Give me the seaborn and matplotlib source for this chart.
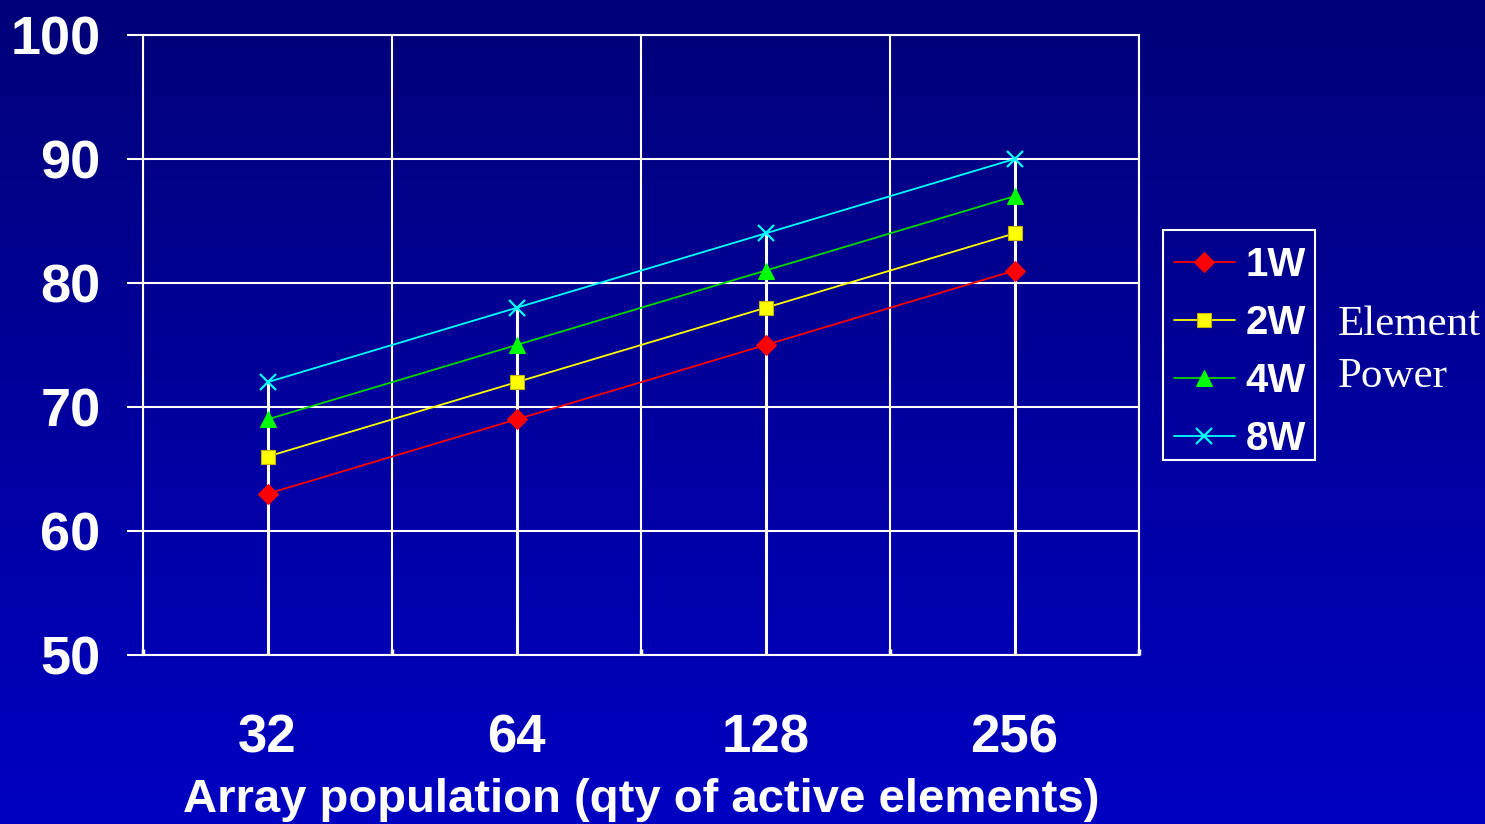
import numpy as np
import pandas as pd
import seaborn as sns
import matplotlib.pyplot as plt
from matplotlib.colors import LinearSegmentedColormap
from matplotlib.patches import Rectangle
from matplotlib.ticker import FixedLocator, MultipleLocator

# ---------------------------------------------------------------------------
# Datos
# ---------------------------------------------------------------------------
poblacion = ["32", "64", "128", "256"]
potencias = ["1W", "2W", "4W", "8W"]
valores_1w = [63, 69, 75, 81]
valores_2w = [66, 72, 78, 84]
valores_4w = [69, 75, 81, 87]
valores_8w = [72, 78, 84, 90]

colores = {"1W": "#FF0000", "2W": "#FFFF00", "4W": "#00FF00", "8W": "#00FFFF"}
lineas = {"1W": "#FF0000", "2W": "#FFFF00", "4W": "#00D800", "8W": "#00FFFF"}
bordes = {"1W": "#FF0000", "2W": "#C8B400", "4W": "#00FF00", "8W": "#00FFFF"}
marcadores = {"1W": "D", "2W": "s", "4W": "^", "8W": "x"}
tamanos = {"1W": 10, "2W": 10, "4W": 11, "8W": 11}

df = pd.DataFrame({
    "poblacion": poblacion * 4,
    "potencia": np.repeat(potencias, len(poblacion)),
    "valor": valores_1w + valores_2w + valores_4w + valores_8w,
})

sns.set_theme(style="white")
plt.rcParams["font.family"] = ["Liberation Sans", "DejaVu Sans"]

W, H = 1485, 824
fig = plt.figure(figsize=(W / 100, H / 100), dpi=100)

# Fondo degradado azul
bg = fig.add_axes([0, 0, 1, 1], zorder=-10)
fondo = LinearSegmentedColormap.from_list("fondo", ["#000078", "#0000C2"])
bg.imshow(np.linspace(0, 1, 256).reshape(-1, 1), aspect="auto", cmap=fondo,
          extent=[0, 1, 0, 1])
bg.axis("off")

ax = fig.add_axes([143 / W, 1 - 655 / H, 996 / W, 620 / H])
ax.patch.set_alpha(0)

# Líneas verticales desde el valor máximo hasta el eje
maximos = df.groupby("poblacion", sort=False)["valor"].max()
ax.vlines(maximos.index, 50, maximos.values, color="white", lw=2.2, zorder=1.5)

for p in potencias:
    sub = df[df["potencia"] == p]
    sns.lineplot(data=sub, x="poblacion", y="valor", ax=ax, sort=False,
                 errorbar=None, color=lineas[p], lw=1.3, marker=marcadores[p],
                 markersize=tamanos[p], markerfacecolor=colores[p],
                 markeredgecolor=bordes[p], markeredgewidth=1.6 if p == "8W" else 0.8,
                 label=p, zorder=3)

ax.set_xlim(-0.5, 3.5)
ax.set_ylim(50, 100)
ax.yaxis.set_major_locator(MultipleLocator(10))
ax.xaxis.set_minor_locator(FixedLocator(np.arange(-0.5, 4, 1)))
ax.grid(False)
ax.grid(axis="y", which="major", color="white", lw=1.5)
ax.grid(axis="x", which="minor", color="white", lw=1.5)
for s in ax.spines.values():
    s.set_color("white")
    s.set_linewidth(1.5)

ax.tick_params(axis="x", which="major", direction="out", length=9.4, width=1.5,
               color="white", pad=33, labelsize=38, labelcolor="white")
ax.tick_params(axis="x", which="minor", direction="in", length=4, width=2.5,
               color="white", bottom=True)
ax.tick_params(axis="y", which="major", direction="out", length=11.5, width=1.5,
               color="white", pad=19, labelsize=39, labelcolor="white", left=True)
for t in ax.get_xticklabels() + ax.get_yticklabels():
    t.set_fontweight("bold")

ax.set_xlabel("Array population (qty of active elements)", fontsize=34,
              fontweight="bold", color="white", labelpad=10)
ax.set_ylabel("")

# Leyenda sin marco propio; el recuadro se dibuja aparte
leg = ax.legend(loc="upper left", bbox_to_anchor=(1162 / W, 1 - 234 / H),
                bbox_transform=fig.transFigure, frameon=False,
                prop={"weight": "bold", "size": 29}, numpoints=1,
                handlelength=1.5, handletextpad=0.28, borderpad=0.3,
                labelspacing=0.5, borderaxespad=0)
for t in leg.get_texts():
    t.set_color("white")
fig.patches.append(Rectangle((1163 / W, 1 - 460 / H), 152 / W, 230 / H,
                             transform=fig.transFigure, fill=False,
                             edgecolor="white", lw=1.5))

fig.text(1338 / W, 1 - 325 / H, "Element", family="Liberation Serif",
         fontsize=31, color="white", va="center", ha="left")
fig.text(1338 / W, 1 - 377 / H, "Power", family="Liberation Serif",
         fontsize=31, color="white", va="center", ha="left")

fig.savefig("out.png", dpi=100)
